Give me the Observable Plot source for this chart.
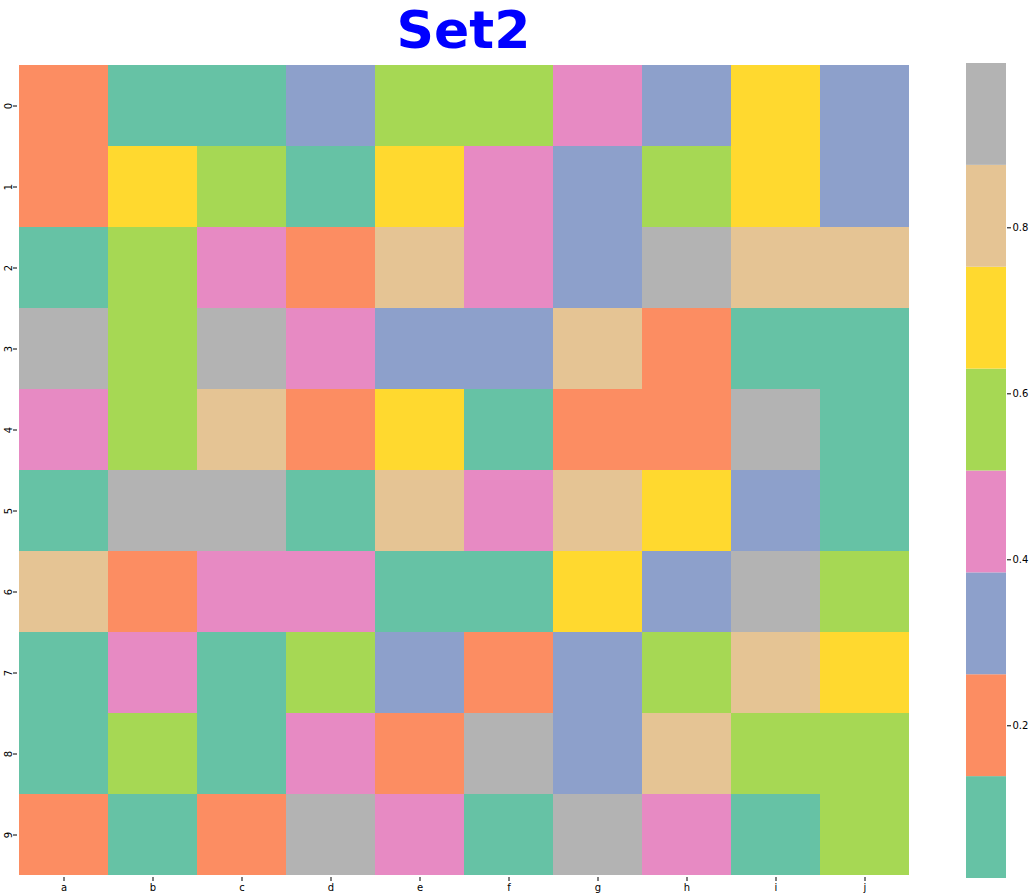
<!DOCTYPE html>
<html>
<head>
<meta charset="utf-8">
<script src="https://cdn.jsdelivr.net/npm/d3@7"></script>
<script src="https://cdn.jsdelivr.net/npm/@observablehq/plot@0.6"></script>
<style>
  html, body { margin: 0; padding: 0; background: #fff; }
  #wrap { position: relative; width: 1029px; height: 895px; font-family: "DejaVu Sans", sans-serif; }
  #title { position: absolute; left: 17px; width: 893px; top: 0px; text-align: center; line-height: normal;
           font-family: "DejaVu Sans", sans-serif; font-weight: bold; font-size: 52px; color: #0000ff; }
  #heat { position: absolute; left: 0; top: 0; }
  #bar { position: absolute; left: 940px; top: 0; }
</style>
</head>
<body>
<div id="wrap">
  <div id="heat"></div>
  <div id="bar"></div>
  <div id="title">Set2</div>
</div>
<script>
const columns = ["a","b","c","d","e","f","g","h","i","j"];
const rows = ["0","1","2","3","4","5","6","7","8","9"];
const row0 = [0.21, 0.08, 0.11, 0.33, 0.56, 0.59, 0.46, 0.30, 0.70, 0.35];
const row1 = [0.19, 0.68, 0.61, 0.05, 0.72, 0.42, 0.29, 0.53, 0.66, 0.31];
const row2 = [0.09, 0.55, 0.44, 0.17, 0.80, 0.48, 0.34, 0.93, 0.83, 0.78];
const row3 = [0.96, 0.58, 0.91, 0.40, 0.28, 0.36, 0.85, 0.23, 0.06, 0.12];
const row4 = [0.47, 0.52, 0.79, 0.20, 0.69, 0.10, 0.16, 0.24, 0.90, 0.04];
const row5 = [0.13, 0.95, 0.89, 0.07, 0.81, 0.43, 0.77, 0.73, 0.32, 0.016];
const row6 = [0.86, 0.18, 0.41, 0.49, 0.03, 0.11, 0.65, 0.27, 0.998, 0.60];
const row7 = [0.06, 0.45, 0.12, 0.57, 0.37, 0.22, 0.30, 0.54, 0.82, 0.71];
const row8 = [0.09, 0.62, 0.05, 0.44, 0.19, 0.92, 0.33, 0.84, 0.56, 0.51];
const row9 = [0.15, 0.08, 0.21, 0.97, 0.39, 0.10, 0.94, 0.46, 0.02, 0.59];
const colorbarTicks = [0.2, 0.4, 0.6, 0.8];

const matrix = [row0,row1,row2,row3,row4,row5,row6,row7,row8,row9];
const cells = [];
matrix.forEach((r, i) => r.forEach((v, j) => cells.push({row: rows[i], col: columns[j], value: v})));

const lo = d3.min(cells, d => d.value), hi = d3.max(cells, d => d.value);
const colors = d3.schemeSet2;
const nb = colors.length;
const step = (hi - lo) / nb;
const thresholds = d3.range(1, nb).map(k => lo + k * step);
const bands = d3.range(nb).map(k => ({y1: lo + k * step, y2: lo + (k + 1) * step, c: colors[k]}));

const heat = Plot.plot({
  width: 940, height: 895,
  marginLeft: 17, marginRight: 30, marginTop: 63, marginBottom: 18,
  style: {fontFamily: "DejaVu Sans, sans-serif", fontSize: "10px", color: "#000", background: "transparent"},
  x: {domain: columns, padding: 0, label: null, tickSize: 4, tickPadding: 2},
  y: {domain: rows, padding: 0, label: null, tickSize: 4, tickRotate: -90, tickPadding: 2},
  color: {type: "threshold", domain: thresholds, range: colors},
  marks: [
    Plot.cell(cells, {x: "col", y: "row", fill: "value", inset: 0})
  ]
});
document.getElementById("heat").appendChild(heat);

const bar = Plot.plot({
  width: 89, height: 895,
  marginLeft: 26, marginRight: 23, marginTop: 63, marginBottom: 17,
  style: {fontFamily: "DejaVu Sans, sans-serif", fontSize: "10px", color: "#000", background: "transparent"},
  x: {axis: null, domain: [0, 1]},
  y: {domain: [lo, hi], axis: "right", ticks: colorbarTicks, tickFormat: d3.format(".1f"), tickSize: 4, tickPadding: 2, label: null},
  marks: [
    Plot.rectY(bands, {x1: 0, x2: 1, y1: "y1", y2: "y2", fill: d => d.c})
  ]
});
document.getElementById("bar").appendChild(bar);
</script>
</body>
</html>
